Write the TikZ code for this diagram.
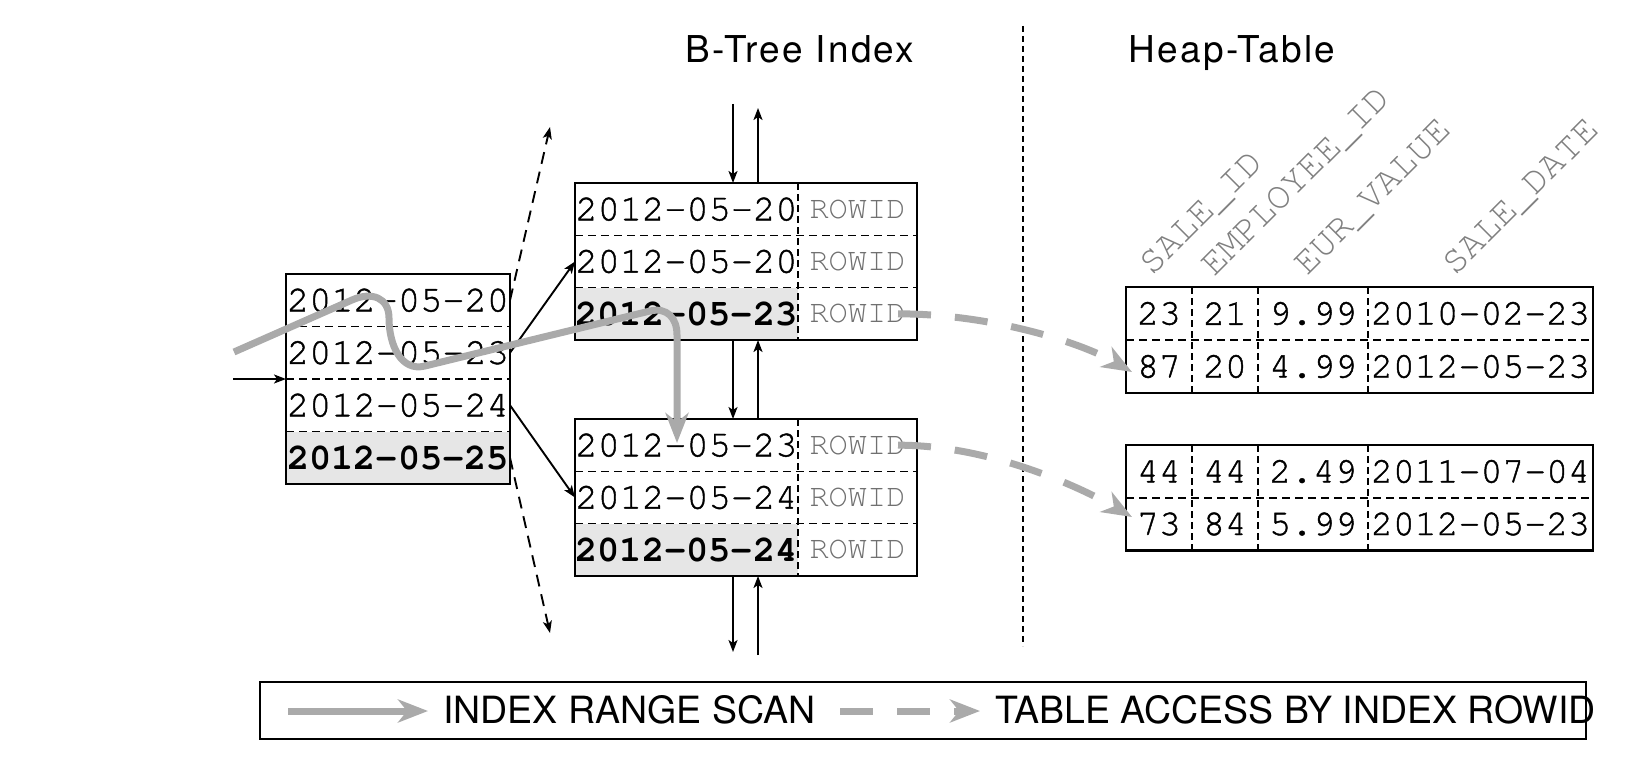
\documentclass[tikz,border=0pt]{standalone}
\usepackage{fontspec}
\setmainfont{TeX Gyre Heros}
\newfontfamily\cur{texgyrecursor}[Extension=.otf,UprightFont=*-regular,BoldFont=*-bold,UprightFeatures={FakeBold=1.2}]
\newfontfamily\curl{texgyrecursor}[Extension=.otf,UprightFont=*-regular,BoldFont=*-bold]
\newfontfamily\titlefont{TeX Gyre Heros}[LetterSpace=6]
\usetikzlibrary{arrows.meta}
\definecolor{scan}{HTML}{AAAAAA}
\definecolor{hl}{HTML}{E6E6E6}
\definecolor{rid}{HTML}{707070}
\definecolor{hdr}{HTML}{808080}
\tikzset{
  cell/.style={inner sep=0pt, outer sep=0pt, anchor=north west, font=\cur\fontsize{37}{37}\selectfont},
  ldate/.style={cell, minimum width=224pt, minimum height=52.5pt},
  idate/.style={cell, minimum width=223pt, minimum height=52.33pt},
  irid/.style={cell, minimum width=119pt, minimum height=52.33pt, text=rid, font=\curl\fontsize{32}{32}\selectfont},
  hcell/.style={cell, minimum height=53pt, font=\cur\fontsize{36.5}{36.5}\selectfont},
  hca/.style={hcell, minimum width=66pt},
  hcb/.style={hcell, minimum width=66pt},
  hcc/.style={hcell, minimum width=110pt},
  hcd/.style={hcell, minimum width=225pt},
  hdrtxt/.style={inner sep=0pt, anchor=base west, rotate=45, text=hdr, font=\curl\fontsize{38}{38}\selectfont},
  boxline/.style={draw=black, line width=2.4pt},
  rowsep/.style={draw=black, line width=1.2pt, dash pattern=on 8pt off 5pt},
  colsep/.style={draw=black, line width=2.6pt, dash pattern=on 7pt off 4pt},
  conn/.style={draw=black, line width=1.9pt, -{Stealth[length=12pt,width=9pt,inset=3pt]}},
  dconn/.style={conn, dash pattern=on 12pt off 8pt},
  scanl/.style={draw=scan, line width=7pt, -{Stealth[length=30pt,width=23pt,inset=9pt]}},
  tacc/.style={scanl, dash pattern=on 33pt off 24pt},
  title/.style={inner sep=0pt, anchor=base, font=\titlefont\fontsize{37}{37}\selectfont},
  legtxt/.style={inner sep=0pt, anchor=west, font=\fontsize{37.5}{37.5}\selectfont}
}
\begin{document}
\begin{tikzpicture}[x=1pt,y=-1pt]
\useasboundingbox (0,0) rectangle (1629,765);

% titles
\node[title] (tbt) at (800,63) {B-Tree Index};
\node[title] (tht) at (1232,63) {Heap-Table};

% divider
\coordinate (d1) at (1023,26);
\coordinate (d2) at (1023,646);
\draw[line width=1.2pt, dash pattern=on 6pt off 4pt] (d1) -- (d2);

% left (branch) box
\node[ldate] (l1) at (286,274) {2012-05-20};
\node[ldate] (l2) at (286,326.5) {2012-05-23};
\node[ldate] (l3) at (286,379) {2012-05-24};
\node[ldate, fill=hl] (l4) at (286,431.5) {\bfseries 2012-05-25};
\draw[rowsep] (l1.south west) -- (l1.south east);
\draw[rowsep] (l2.south west) -- (l2.south east);
\draw[rowsep] (l3.south west) -- (l3.south east);
\draw[boxline] (l1.north west) rectangle (l4.south east);

% top leaf box
\node[idate] (t1) at (575,183) {2012-05-20};
\node[irid] (t1r) at (798,183) {ROWID};
\node[idate] (t2) at (575,235.33) {2012-05-20};
\node[irid] (t2r) at (798,235.33) {ROWID};
\node[idate, fill=hl] (t3) at (575,287.67) {\bfseries 2012-05-23};
\node[irid] (t3r) at (798,287.67) {ROWID};
\draw[rowsep] (t1.south west) -- (t1r.south east);
\draw[rowsep] (t2.south west) -- (t2r.south east);
\draw[colsep] (t1r.north west) -- (t3r.south west);
\draw[boxline] (t1.north west) rectangle (t3r.south east);

% bottom leaf box
\node[idate] (b1) at (575,419) {2012-05-23};
\node[irid] (b1r) at (798,419) {ROWID};
\node[idate] (b2) at (575,471.33) {2012-05-24};
\node[irid] (b2r) at (798,471.33) {ROWID};
\node[idate, fill=hl] (b3) at (575,523.67) {\bfseries 2012-05-24};
\node[irid] (b3r) at (798,523.67) {ROWID};
\draw[rowsep] (b1.south west) -- (b1r.south east);
\draw[rowsep] (b2.south west) -- (b2r.south east);
\draw[colsep] (b1r.north west) -- (b3r.south west);
\draw[boxline] (b1.north west) rectangle (b3r.south east);

% heap table 1
\node[hca] (h11) at (1126,287) {23};
\node[hcb] (h12) at (1192,287) {21};
\node[hcc] (h13) at (1258,287) {9.99};
\node[hcd] (h14) at (1368,287) {2010-02-23};
\node[hca] (h21) at (1126,340) {87};
\node[hcb] (h22) at (1192,340) {20};
\node[hcc] (h23) at (1258,340) {4.99};
\node[hcd] (h24) at (1368,340) {2012-05-23};
\draw[rowsep] (h11.south west) -- (h14.south east);
\draw[colsep] (h12.north west) -- (h22.south west);
\draw[colsep] (h13.north west) -- (h23.south west);
\draw[colsep] (h14.north west) -- (h24.south west);
\draw[boxline] (h11.north west) rectangle (h24.south east);

% heap table 2
\node[hca] (k11) at (1126,445) {44};
\node[hcb] (k12) at (1192,445) {44};
\node[hcc] (k13) at (1258,445) {2.49};
\node[hcd] (k14) at (1368,445) {2011-07-04};
\node[hca] (k21) at (1126,497.5) {73};
\node[hcb] (k22) at (1192,497.5) {84};
\node[hcc] (k23) at (1258,497.5) {5.99};
\node[hcd] (k24) at (1368,497.5) {2012-05-23};
\draw[rowsep] (k11.south west) -- (k14.south east);
\draw[colsep] (k12.north west) -- (k22.south west);
\draw[colsep] (k13.north west) -- (k23.south west);
\draw[colsep] (k14.north west) -- (k24.south west);
\draw[boxline] (k11.north west) rectangle (k24.south east);

% column headers
\node[hdrtxt] (hd1) at (1152,277) {SALE\_ID};
\node[hdrtxt] (hd2) at (1214,278) {EMPLOYEE\_ID};
\node[hdrtxt] (hd3) at (1307,277) {EUR\_VALUE};
\node[hdrtxt] (hd4) at (1455,277) {SALE\_DATE};

% black connectors
\coordinate (in0) at (233,379);
\draw[conn] (in0) -- (l2.south west);
\coordinate (upd) at (550,127);
\coordinate (dnd) at (550,633);
\draw[dconn] (l1.east) -- (upd);
\draw[dconn] (l4.east) -- (dnd);
\draw[conn] (l2.east) -- (t2.west);
\draw[conn] (l3.east) -- (b2.west);

\coordinate (a1) at (733,104);
\coordinate (a2) at (758,108);
\coordinate (a3) at (733,652);
\coordinate (a4) at (758,655);
\draw[conn] (a1) -- (a1 |- t1.north);
\draw[conn] (a2 |- t1.north) -- (a2);
\draw[conn] (a1 |- t3.south) -- (a1 |- b1.north);
\draw[conn] (a2 |- b1.north) -- (a2 |- t3.south);
\draw[conn] (a1 |- b3.south) -- (a3);
\draw[conn] (a4) -- (a2 |- b3.south);

% index range scan path
\coordinate (s0) at (234,352);
\coordinate (s9) at (677,443);
\draw[scanl] (s0) -- (352,300) .. controls (372,291) and (389,298) .. (389,318)
  .. controls (389,345) and (401,372) .. (425,366) -- (650,311)
  .. controls (667,307) and (677,318) .. (677,335) -- (s9);

% table access by rowid
\draw[tacc] ([xshift=-19pt]t3r.east) .. controls +(92,0) and +(-52,-30) .. ([shift={(6pt,-5.5pt)}]h21.west);
\draw[tacc] ([xshift=-19pt]b1r.east) .. controls +(92,0) and +(-52,-30) .. ([shift={(6pt,7pt)}]k21.west);

% legend
\node[draw=black, line width=2.3pt, minimum width=1326pt, minimum height=57pt, inner sep=0pt] (leg) at (923,710.5) {};
\coordinate (la1) at (288,711);
\coordinate (la2) at (428,711);
\coordinate (lb1) at (840,711);
\coordinate (lb2) at (980,711);
\draw[scanl] (la1) -- (la2);
\node[legtxt] (lt1) at (443,710) {INDEX RANGE SCAN};
\draw[tacc] (lb1) -- (lb2);
\node[legtxt] (lt2) at (995,710) {TABLE ACCESS BY INDEX ROWID};
\end{tikzpicture}
\end{document}
